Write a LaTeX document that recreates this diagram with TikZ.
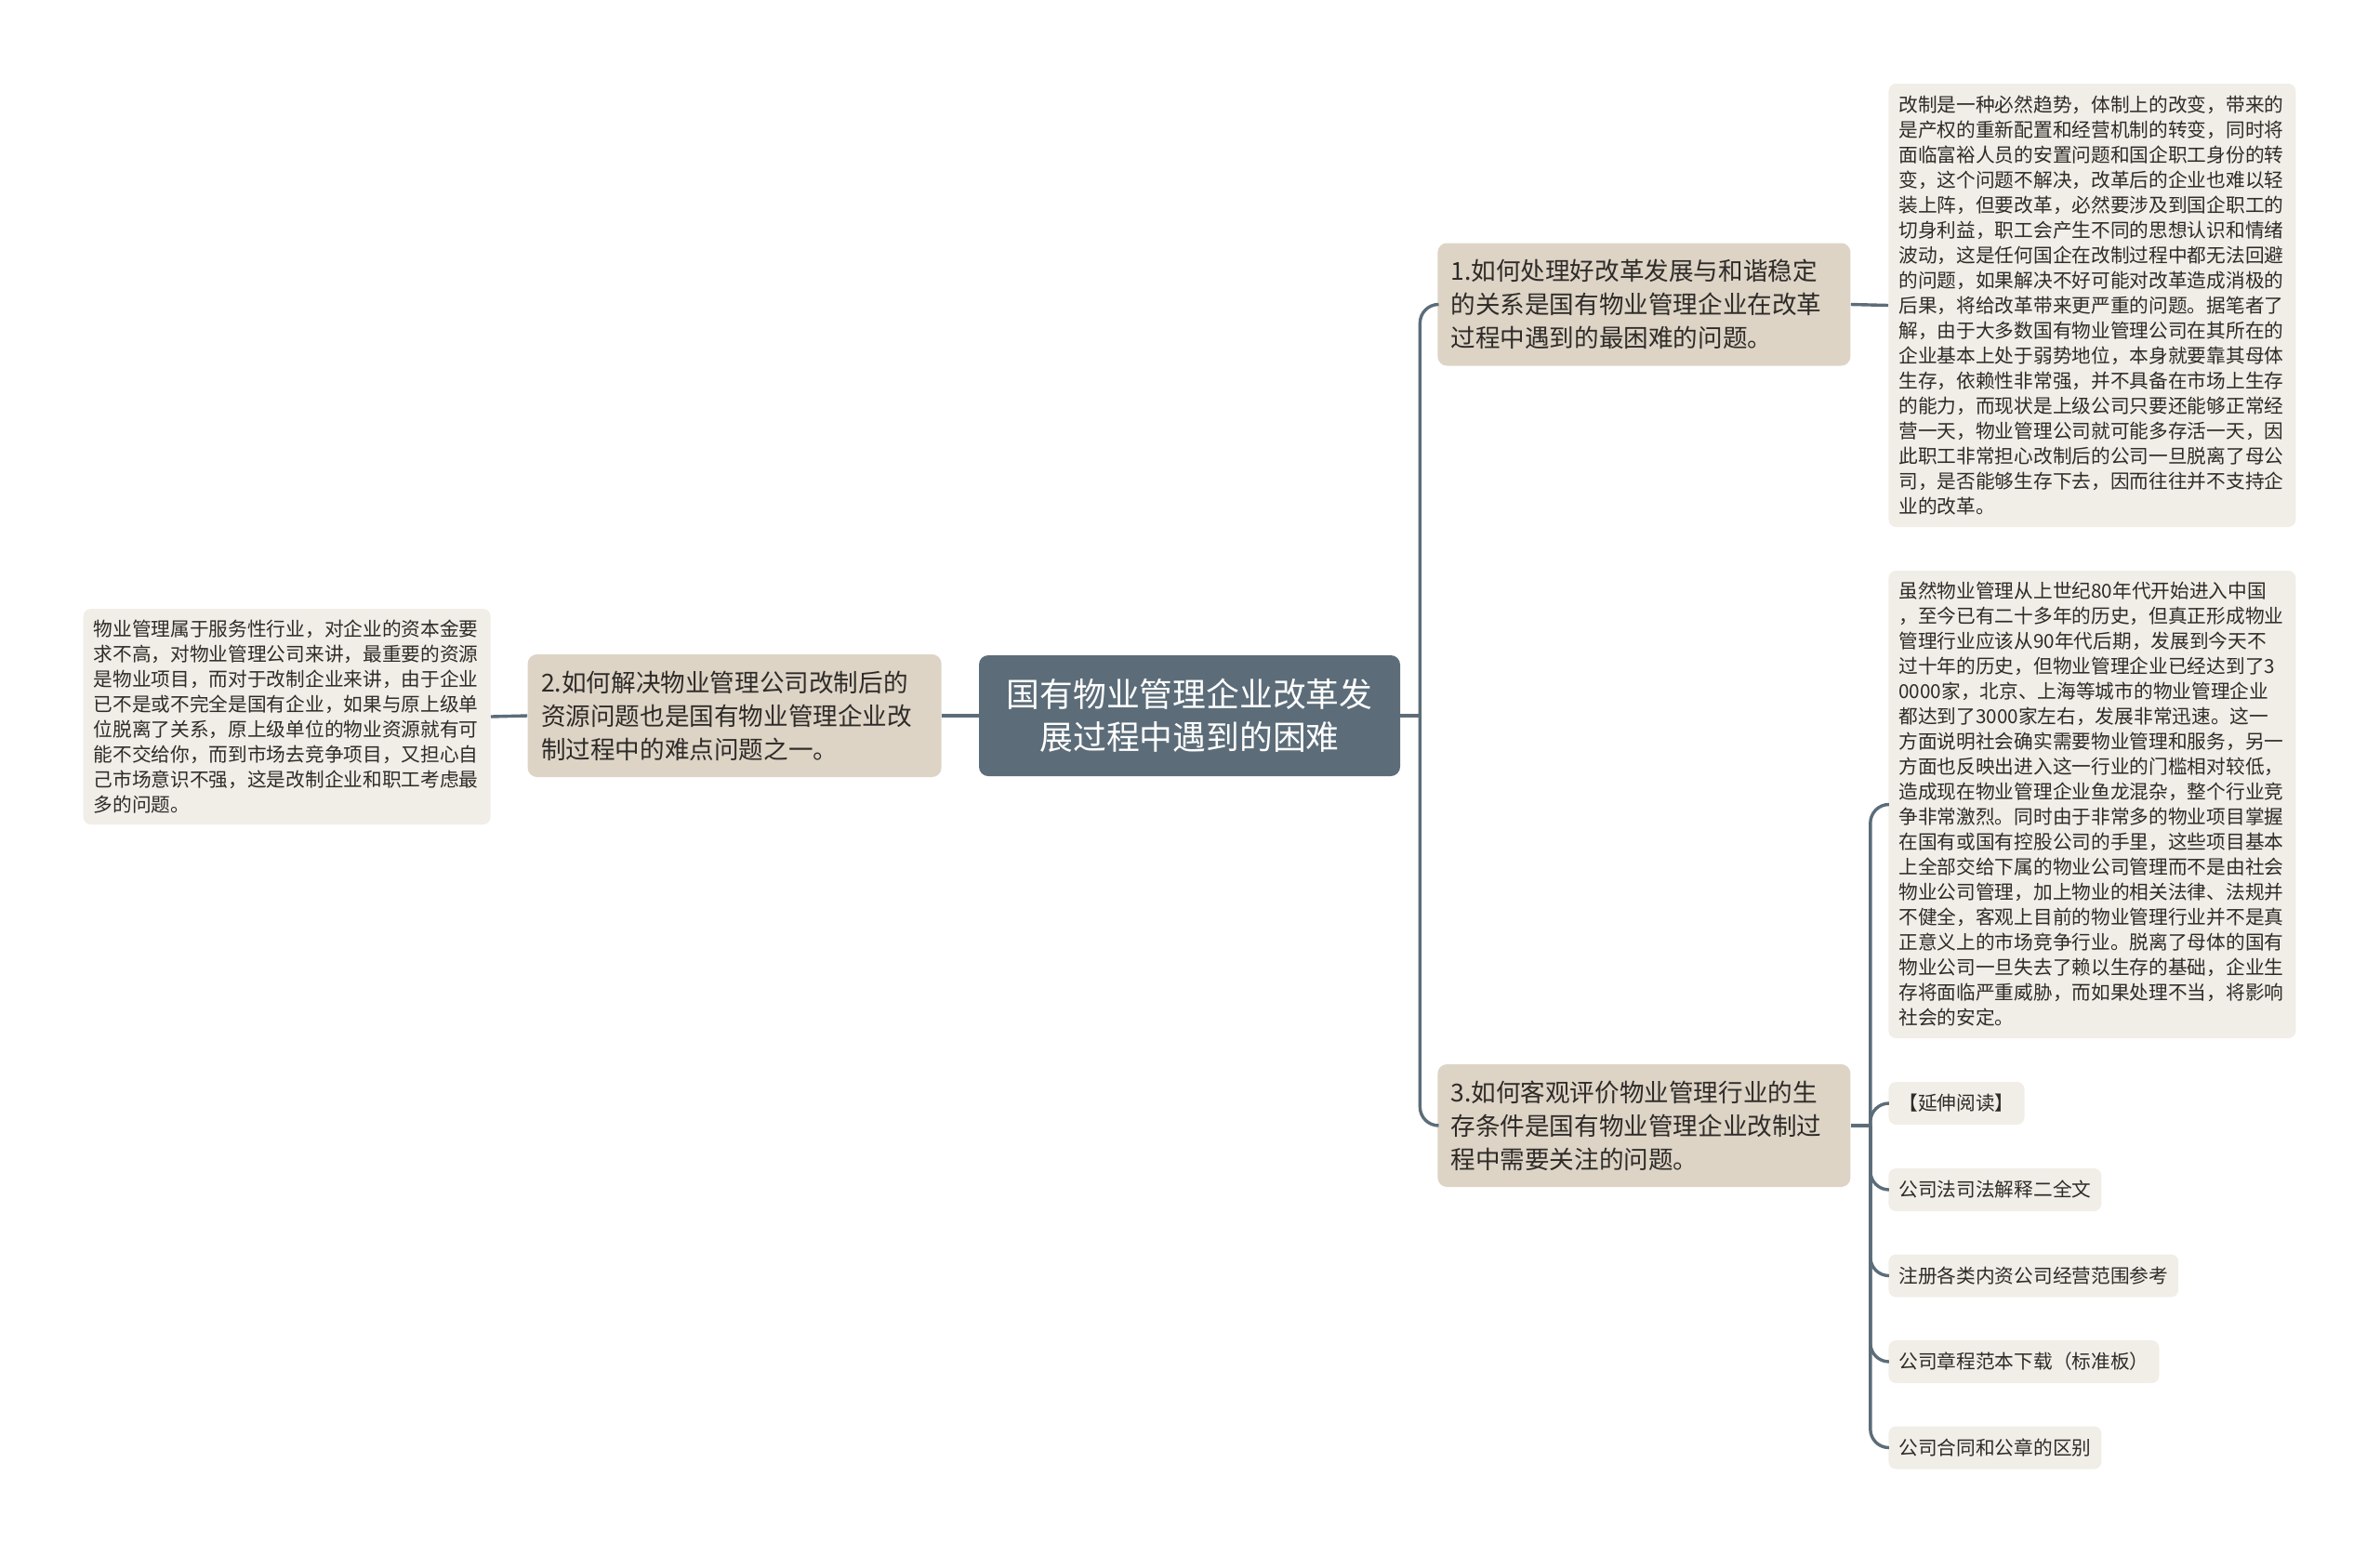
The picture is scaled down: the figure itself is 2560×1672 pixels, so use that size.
\documentclass[tikz,border=0pt]{standalone}
\usepackage{fontspec}
\setmainfont{Noto Sans CJK SC}
\newfontfamily\cjk{Noto Sans CJK SC}
\usetikzlibrary{positioning}
\definecolor{slate}{HTML}{5C6D79}
\definecolor{sand}{HTML}{DDD4C6}
\definecolor{paper}{HTML}{F1EEE8}
\definecolor{ink}{HTML}{2E2B28}
\begin{document}
\begin{tikzpicture}[x=0.5pt,y=-0.5pt,
  rootbox/.style={draw=none,fill=slate,rounded corners=5pt,text=white,align=center,
    minimum width=226.5pt,minimum height=65pt,inner sep=0pt,
    font=\cjk\fontsize{17.9}{23}\selectfont},
  topic/.style={fill=sand,rounded corners=5pt,text=ink,align=left,text width=208pt,
    inner xsep=7pt,inner ysep=0pt,minimum width=222pt,minimum height=66pt,
    font=\cjk\fontsize{13.3}{18}\selectfont},
  leaf/.style={fill=paper,rounded corners=4pt,text=ink,align=left,text width=208pt,
    inner xsep=5.5pt,inner ysep=0pt,minimum width=219pt,
    font=\cjk\fontsize{10.35}{13.5}\selectfont},
  tag/.style={fill=paper,rounded corners=4pt,text=ink,inner xsep=5.5pt,inner ysep=0pt,
    minimum height=23pt,font=\cjk\fontsize{10.35}{13.5}\selectfont},
  link/.style={draw=slate,line width=1.7pt,rounded corners=10pt}]
\useasboundingbox (0,0) rectangle (2560,1672);

\node[rootbox] (root) at (1279.5,770) {国有物业管理企业改革发\\展过程中遇到的困难};

\node[topic,anchor=west] (q1) at (1546,327.5) {1.如何处理好改革发展与和谐稳定\\的关系是国有物业管理企业在改革\\过程中遇到的最困难的问题。};
\node[topic,anchor=east,minimum width=222.5pt] (q2) at (1013,770) {2.如何解决物业管理公司改制后的\\资源问题也是国有物业管理企业改\\制过程中的难点问题之一。};
\node[topic,anchor=west] (q3) at (1546,1211) {3.如何客观评价物业管理行业的生\\存条件是国有物业管理企业改制过\\程中需要关注的问题。};

\node[leaf,anchor=west,minimum height=238.5pt] (r1) at (2031,328.5) {改制是一种必然趋势，体制上的改变，带来的\\是产权的重新配置和经营机制的转变，同时将\\面临富裕人员的安置问题和国企职工身份的转\\变，这个问题不解决，改革后的企业也难以轻\\装上阵，但要改革，必然要涉及到国企职工的\\切身利益，职工会产生不同的思想认识和情绪\\波动，这是任何国企在改制过程中都无法回避\\的问题，如果解决不好可能对改革造成消极的\\后果，将给改革带来更严重的问题。据笔者了\\解，由于大多数国有物业管理公司在其所在的\\企业基本上处于弱势地位，本身就要靠其母体\\生存，依赖性非常强，并不具备在市场上生存\\的能力，而现状是上级公司只要还能够正常经\\营一天，物业管理公司就可能多存活一天，因\\此职工非常担心改制后的公司一旦脱离了母公\\司，是否能够生存下去，因而往往并不支持企\\业的改革。};

\node[leaf,anchor=east,minimum height=116pt] (r2) at (528,771) {物业管理属于服务性行业，对企业的资本金要\\求不高，对物业管理公司来讲，最重要的资源\\是物业项目，而对于改制企业来讲，由于企业\\已不是或不完全是国有企业，如果与原上级单\\位脱离了关系，原上级单位的物业资源就有可\\能不交给你，而到市场去竞争项目，又担心自\\己市场意识不强，这是改制企业和职工考虑最\\多的问题。};

\node[leaf,anchor=west,minimum height=251.5pt] (r3) at (2031,865.5) {虽然物业管理从上世纪80年代开始进入中国\\，至今已有二十多年的历史，但真正形成物业\\管理行业应该从90年代后期，发展到今天不\\过十年的历史，但物业管理企业已经达到了3\\0000家，北京、上海等城市的物业管理企业\\都达到了3000家左右，发展非常迅速。这一\\方面说明社会确实需要物业管理和服务，另一\\方面也反映出进入这一行业的门槛相对较低，\\造成现在物业管理企业鱼龙混杂，整个行业竞\\争非常激烈。同时由于非常多的物业项目掌握\\在国有或国有控股公司的手里，这些项目基本\\上全部交给下属的物业公司管理而不是由社会\\物业公司管理，加上物业的相关法律、法规并\\不健全，客观上目前的物业管理行业并不是真\\正意义上的市场竞争行业。脱离了母体的国有\\物业公司一旦失去了赖以生存的基础，企业生\\存将面临严重威胁，而如果处理不当，将影响\\社会的安定。};

\node[tag,anchor=west] (t1) at (2031,1187) {【延伸阅读】};
\node[tag,anchor=west] (t2) at (2031,1280) {公司法司法解释二全文};
\node[tag,anchor=west] (t3) at (2031,1372.5) {注册各类内资公司经营范围参考};
\node[tag,anchor=west] (t4) at (2031,1465) {公司章程范本下载（标准板）};
\node[tag,anchor=west] (t5) at (2031,1557.5) {公司合同和公章的区别};

% connectors
\coordinate (jr) at ([xshift=10.5pt]root.east);
\coordinate (j3) at ([xshift=10.5pt]q3.east);
\draw[link] (root.east) -- (jr);
\draw[link] (jr) |- (q1.west);
\draw[link] (jr) |- (q3.west);
\draw[link] (root.west) -- (q2.east);
\draw[link] (q2.west) -- (r2.east);
\draw[link] (q1.east) -- (r1.west);
\draw[link] (q3.east) -- (j3);
\foreach \k in {r3,t1,t2,t3,t4,t5}
  \draw[link] (j3) |- (\k.west);
\end{tikzpicture}
\end{document}
